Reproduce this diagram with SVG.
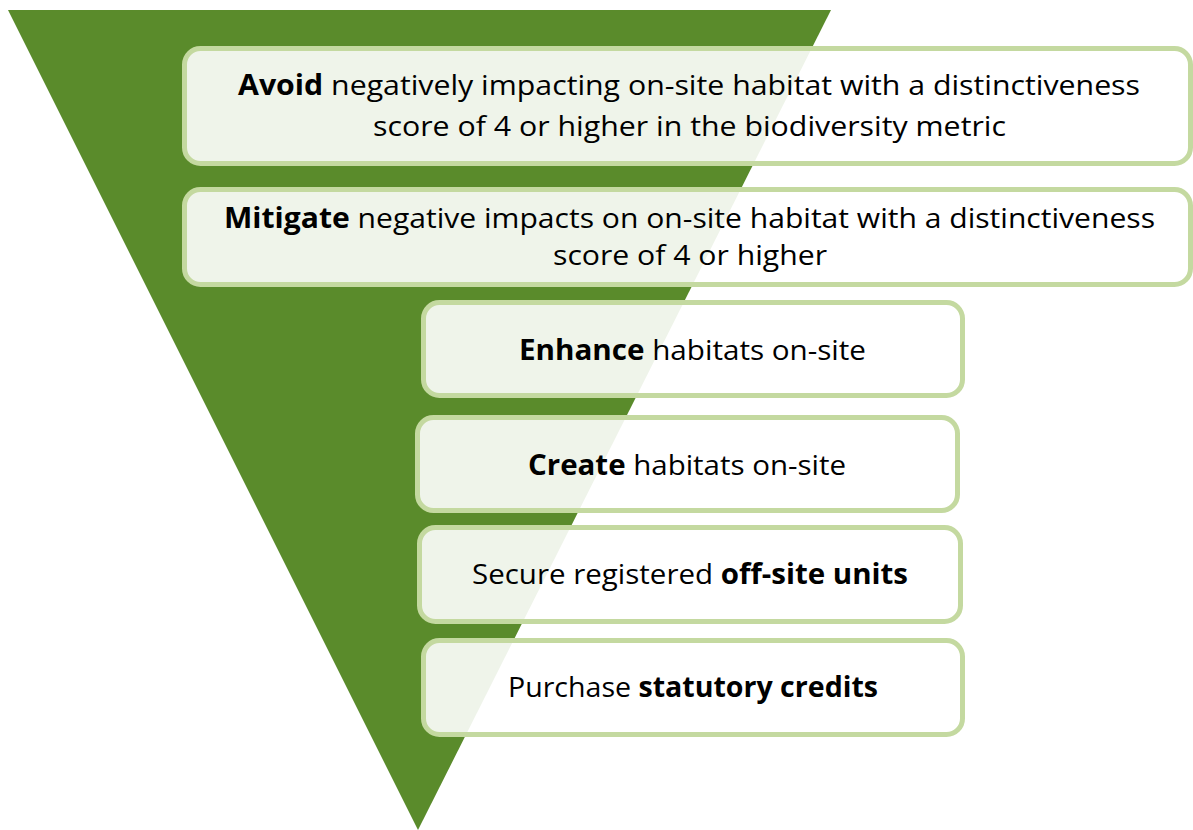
<svg xmlns="http://www.w3.org/2000/svg" width="1193" height="830" viewBox="0 0 1193 830">
  <style>
    .step { fill: #ffffff; fill-opacity: 0.9; stroke: #c4d9a0; stroke-width: 5; }
    .label { font-family: "Open Sans", Lato, "Liberation Sans", sans-serif; font-size: 28px; fill: #000000; text-anchor: middle; }
    .b { font-weight: bold; }
  </style>
  <rect width="1193" height="830" fill="#ffffff"/>

  <!-- inverted hierarchy triangle -->
  <polygon id="hierarchy" points="8,10 831,10 418,830" fill="#5a8b2b"/>

  <!-- no connectors in this figure -->
  <g id="connectors"></g>

  <g id="avoid">
    <rect class="step" x="184.5" y="48.5" width="1006" height="115" rx="16"/>
    <text class="label" x="689" y="95" textLength="902" lengthAdjust="spacingAndGlyphs"><tspan class="b">Avoid</tspan> negatively impacting on-site habitat with a distinctiveness</text>
    <text class="label" x="689.5" y="136" textLength="633" lengthAdjust="spacingAndGlyphs">score of 4 or higher in the biodiversity metric</text>
  </g>

  <g id="mitigate">
    <rect class="step" x="184.5" y="189.5" width="1006" height="95" rx="16"/>
    <text class="label" x="689.5" y="228" textLength="931" lengthAdjust="spacingAndGlyphs"><tspan class="b">Mitigate</tspan> negative impacts on on-site habitat with a distinctiveness</text>
    <text class="label" x="690" y="265" textLength="274" lengthAdjust="spacingAndGlyphs">score of 4 or higher</text>
  </g>

  <g id="enhance">
    <rect class="step" x="423.5" y="302.5" width="539" height="93" rx="16"/>
    <text class="label" x="692.5" y="360" textLength="347" lengthAdjust="spacingAndGlyphs"><tspan class="b">Enhance</tspan> habitats on-site</text>
  </g>

  <g id="create">
    <rect class="step" x="417.5" y="417.5" width="540" height="93" rx="16"/>
    <text class="label" x="687" y="475" textLength="318" lengthAdjust="spacingAndGlyphs"><tspan class="b">Create</tspan> habitats on-site</text>
  </g>

  <g id="offsite">
    <rect class="step" x="419.5" y="527.5" width="541" height="94" rx="16"/>
    <text class="label" x="690" y="584" textLength="436" lengthAdjust="spacingAndGlyphs">Secure registered <tspan class="b">off-site units</tspan></text>
  </g>

  <g id="credits">
    <rect class="step" x="423.5" y="640.5" width="539" height="94" rx="16"/>
    <text class="label" x="693" y="697" textLength="370" lengthAdjust="spacingAndGlyphs">Purchase <tspan class="b">statutory credits</tspan></text>
  </g>
</svg>
